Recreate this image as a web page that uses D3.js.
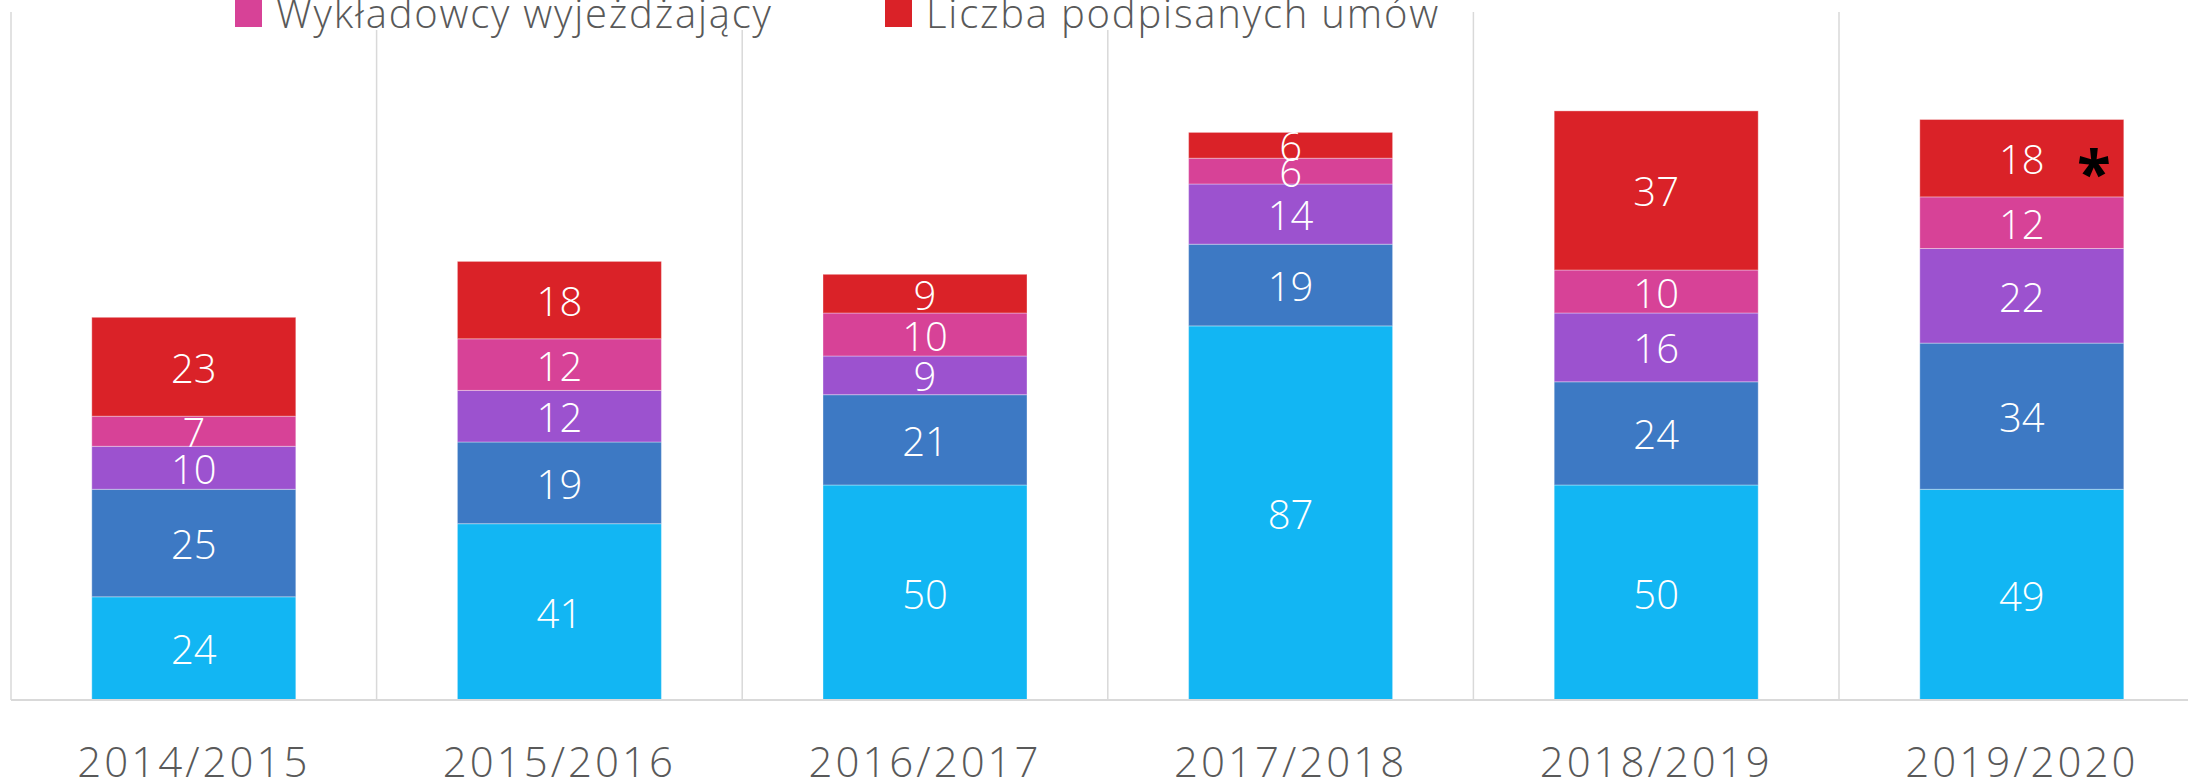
<!DOCTYPE html>
<html lang="pl">
<head>
<meta charset="UTF-8">
<script src="https://cdn.jsdelivr.net/npm/d3@7/dist/d3.min.js"></script>
<title>Wyjazdy</title>
<style>
    html, body { margin: 0; padding: 0; background: #fff; }
    svg { display: block; font-family: "Open Sans", "Noto Sans", sans-serif; }
    .lbl { fill: #fff; font-weight: 300; font-size: 40px; }
    .xlab { fill: #595959; font-family: "Open Sans", "Noto Sans", sans-serif; font-weight: 300; font-size: 42px; letter-spacing: 3px; }
    .leg { fill: #595959; font-weight: 300; font-size: 40px; letter-spacing: 1.8px; }
</style>
</head>
<body>
<svg id="chart" width="2188" height="784"></svg>
<script>
    var years = ["2014/2015", "2015/2016", "2016/2017", "2017/2018", "2018/2019", "2019/2020"];
    var seriesNames = ["Studenci wyjeżdżający na studia", "Studenci wyjeżdżający na praktyki",
                       "Pracownicy wyjeżdżający", "Wykładowcy wyjeżdżający", "Liczba podpisanych umów"];
    var studia    = [24, 41, 50, 87, 50, 49];
    var praktyki  = [25, 19, 21, 19, 24, 34];
    var pracownicy = [10, 12, 9, 14, 16, 22];
    var wykladowcy = [7, 12, 10, 6, 10, 12];
    var umowy     = [23, 18, 9, 6, 37, 18];
    var colors = ["#12B6F3", "#3D79C4", "#9C52CF", "#D74297", "#DA2228"];

    var svg = d3.select("#chart");

    var rows = years.map(function(y, i) {
        return { year: y, s0: studia[i], s1: praktyki[i], s2: pracownicy[i], s3: wykladowcy[i], s4: umowy[i] };
    });
    var keys = ["s0", "s1", "s2", "s3", "s4"];
    var stacked = d3.stack().keys(keys)(rows);

    var x = d3.scaleBand().domain(years).range([11, 2204.6]).paddingInner(0.442).paddingOuter(0.221);
    var y = d3.scaleLinear().domain([0, 160]).range([700, 12]);
    var half = (x.step() - x.bandwidth()) / 2;

    // vertical gridlines between categories
    var bounds = years.map(function(c) { return x(c) - half; }).concat([x(years[5]) + x.bandwidth() + half]);
    svg.append("g").selectAll("line").data(bounds).join("line")
        .attr("x1", function(d) { return d; }).attr("x2", function(d) { return d; })
        .attr("y1", y(160)).attr("y2", y(0))
        .attr("stroke", "#D9D9D9").attr("stroke-width", 1.5);

    var groups = svg.append("g").selectAll("g").data(stacked).join("g")
        .attr("fill", function(d, i) { return colors[i]; });
    groups.selectAll("rect").data(function(d) { return d; }).join("rect")
        .attr("x", function(d) { return x(d.data.year); })
        .attr("width", x.bandwidth())
        .attr("y", function(d) { return y(d[1]); })
        .attr("height", function(d) { return y(d[0]) - y(d[1]); })
        .attr("stroke", "rgba(255,255,255,0.35)").attr("stroke-width", 1);

    // baseline
    svg.append("line").attr("x1", 11).attr("x2", 2205).attr("y1", y(0)).attr("y2", y(0))
        .attr("stroke", "#D9D9D9").attr("stroke-width", 2);

    // data labels
    stacked.forEach(function(s) {
        svg.append("g").selectAll("text").data(s).join("text")
            .attr("class", "lbl")
            .attr("text-anchor", "middle")
            .attr("x", function(d) { return x(d.data.year) + x.bandwidth() / 2; })
            .attr("y", function(d) { return (y(d[0]) + y(d[1])) / 2 + 16; })
            .text(function(d) { return d[1] - d[0]; });
    });

    // asterisk on last bar
    var last = stacked[4][5];
    svg.append("text")
        .attr("x", x(years[5]) + x.bandwidth() - 30)
        .attr("y", (y(last[0]) + y(last[1])) / 2 + 38)
        .attr("text-anchor", "middle")
        .attr("font-size", 62).attr("font-weight", 700).attr("fill", "#000")
        .text("*");

    // x axis
    var xAxis = svg.append("g").attr("transform", "translate(0," + y(0) + ")")
        .call(d3.axisBottom(x).tickSize(0).tickPadding(0));
    xAxis.select(".domain").remove();
    xAxis.attr("font-family", null).attr("font-size", null);
    xAxis.selectAll("text").attr("class", "xlab").attr("dy", 0).attr("y", 77).attr("fill", null);

    // legend (first row sits above the visible area)
    var legPos = [[240, -50], [900, -50], [1500, -50], [235, 0], [885, 0]];
    svg.append("rect").attr("x", 225).attr("y", -80).attr("width", 1220).attr("height", 110).attr("fill", "#fff");
    var leg = svg.append("g").selectAll("g").data(seriesNames).join("g")
        .attr("transform", function(d, i) { return "translate(" + legPos[i][0] + "," + legPos[i][1] + ")"; });
    leg.append("rect").attr("width", 27).attr("height", 27)
        .attr("fill", function(d, i) { return colors[i]; });
    leg.append("text").attr("class", "leg").attr("x", 41).attr("y", 28).text(function(d) { return d; });
</script>
</body>
</html>
